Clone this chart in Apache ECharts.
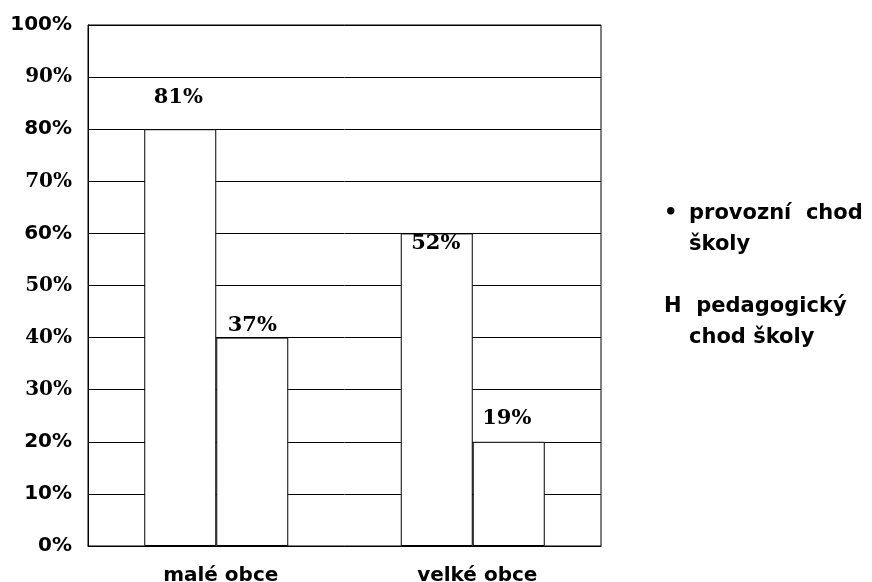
<!DOCTYPE html>
<html>
<head>
<meta charset="utf-8">
<script src="https://cdn.jsdelivr.net/npm/echarts@6/dist/echarts.min.js"></script>
<style>
html, body { margin: 0; padding: 0; background: #fff; }
#chodSkoly { width: 872px; height: 582px; }
</style>
</head>
<body>
<div id="chodSkoly"></div>
<script>
// kategorie a hodnoty
const categories = ['malé obce', 'velké obce'];
const seriesNames = ['provozní chod školy', 'pedagogický chod školy'];
// výška sloupců tak, jak jsou nakreslené
const provozniValues = [80, 60];
const pedagogValues = [40, 20];
// popisky nad sloupci
const provozniLabels = ['81%', '52%'];
const pedagogLabels = ['37%', '19%'];
const yTicks = [0, 10, 20, 30, 40, 50, 60, 70, 80, 90, 100];

// tyto popisky osy jsou v patkovém písmu
const serifTicks = [30, 40, 50, 70, 90];

const chart = echarts.init(document.getElementById('chodSkoly'));

const labelStyle = {
    show: true,
    position: 'top',
    distance: 5,
    color: '#000',
    fontFamily: 'DejaVu Serif',
    fontWeight: 'bold',
    fontSize: 21
};

const option = {
    backgroundColor: '#fff',
    animation: false,
    grid: {
        left: 88,
        right: 271,
        top: 25,
        bottom: 36,
        outerBoundsMode: 'none',
        show: true,
        borderColor: '#000',
        borderWidth: 1
    },
    legend: {
        orient: 'vertical',
        left: 658,
        top: 203,
        padding: 0,
        itemWidth: 0,
        itemHeight: 0,
        itemGap: 41,
        icon: 'rect',
        data: seriesNames,
        formatter: function (name) {
            if (name === seriesNames[0]) {
                return '{m|•}{t|provozní  chod}\n{m|}{t|školy}';
            }
            return '{m|H}{t| pedagogický}\n{m|}{t|chod školy}';
        },
        textStyle: {
            rich: {
                m: { width: 25, color: '#000', fontFamily: 'DejaVu Sans', fontWeight: 'bold', fontSize: 21, lineHeight: 31 },
                t: { color: '#000', fontFamily: 'DejaVu Sans', fontWeight: 'bold', fontSize: 21, lineHeight: 31 }
            }
        }
    },
    xAxis: {
        type: 'category',
        data: categories,
        axisLine: { show: true, lineStyle: { color: '#000', width: 1 } },
        axisTick: { show: false },
        axisLabel: {
            margin: 20,
            padding: [0, 0, 0, 9],
            color: '#000',
            fontFamily: 'DejaVu Sans',
            fontWeight: 'bold',
            fontSize: 20
        }
    },
    yAxis: {
        type: 'value',
        min: yTicks[0],
        max: yTicks[yTicks.length - 1],
        interval: 10,
        axisLine: { show: true, lineStyle: { color: '#000', width: 1 } },
        axisTick: { show: false },
        splitLine: { show: true, lineStyle: { color: '#000', width: 1 } },
        axisLabel: {
            margin: 16,
            formatter: function (v) {
                return serifTicks.indexOf(v) >= 0 ? '{t|' + v + '%}' : '{s|' + v + '%}';
            },
            rich: {
                s: { color: '#000', fontFamily: 'DejaVu Sans', fontWeight: 'bold', fontSize: 20 },
                t: { color: '#000', fontFamily: 'DejaVu Serif', fontWeight: 'bold', fontSize: 20 }
            }
        }
    },
    series: [{
        name: seriesNames[0],
        type: 'bar',
        barWidth: 72,
        barGap: '0%',
        data: provozniValues.map(function (v, i) {
            // posun popisků podle předlohy
            const off = [[-2, -16], [-1, 26]][i];
            return { value: v, label: { offset: off } };
        }),
        label: Object.assign({}, labelStyle, {
            formatter: function (p) { return provozniLabels[p.dataIndex]; }
        }),
        itemStyle: { color: '#fff', borderColor: '#000', borderWidth: 1 }
    }, {
        name: seriesNames[1],
        type: 'bar',
        barWidth: 72,
        barGap: '0%',
        data: pedagogValues.map(function (v, i) {
            const off = [[0, 3], [-2, -8]][i];
            return { value: v, label: { offset: off } };
        }),
        label: Object.assign({}, labelStyle, {
            formatter: function (p) { return pedagogLabels[p.dataIndex]; }
        }),
        itemStyle: { color: '#fff', borderColor: '#000', borderWidth: 1 }
    }]
};

chart.setOption(option);
</script>
</body>
</html>
